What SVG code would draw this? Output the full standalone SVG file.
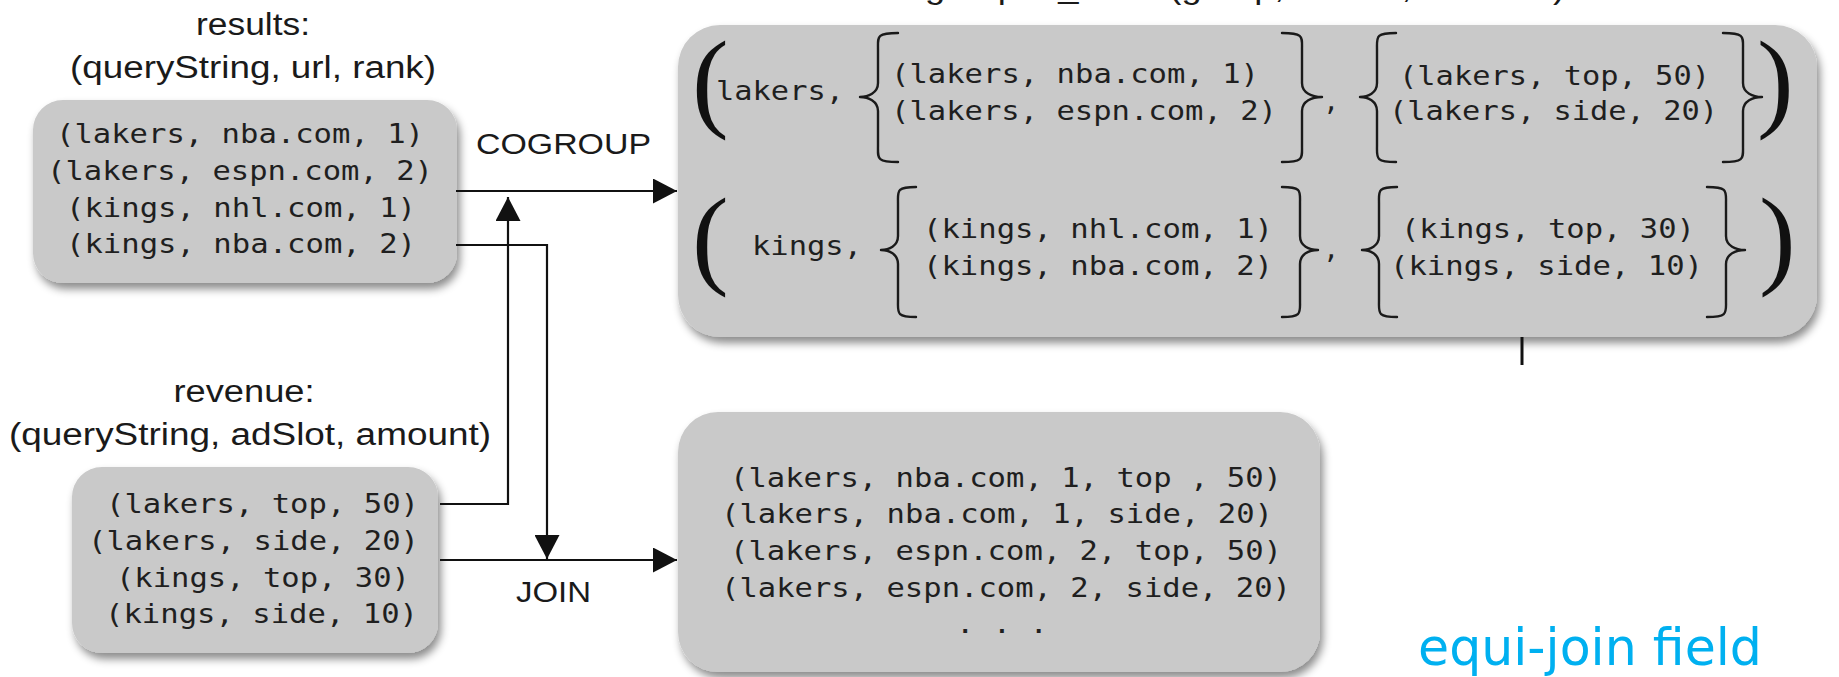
<svg xmlns="http://www.w3.org/2000/svg" width="1839" height="677" viewBox="0 0 1839 677">
  <style>
    .lbl { font-family: "Liberation Sans", Arial, sans-serif; font-size: 31px; fill: #1a1a1a; }
    .op { font-family: "Liberation Sans", Arial, sans-serif; font-size: 29px; fill: #1a1a1a; }
    .mono { font-family: "DejaVu Sans Mono", "Liberation Mono", monospace; font-size: 27px; fill: #1f1f1f; }
    .big { font-family: "Liberation Serif", "Times New Roman", serif; font-size: 110px; fill: #111; }
    .box { fill: #c9c9c9; filter: url(#shadow); }
    .wire { fill: none; stroke: #111; stroke-width: 2.2; }
    .brace { fill: none; stroke: #1a1a1a; stroke-width: 2.4; stroke-linecap: round; stroke-linejoin: round; }
    .note { font-family: "DejaVu Sans", sans-serif; font-size: 52px; fill: #00b0f0; }
  </style>
  <defs>
    <filter id="shadow" x="-10%" y="-10%" width="125%" height="130%">
      <feDropShadow dx="3" dy="6" stdDeviation="4" flood-color="#000" flood-opacity="0.45"/>
    </filter>
    <marker id="head" markerUnits="userSpaceOnUse" markerWidth="24" markerHeight="25" refX="24" refY="12.5" orient="auto">
      <path d="M0,0 L24,12.5 L0,25 Z" fill="#111"/>
    </marker>
  </defs>

  <rect width="1839" height="677" fill="#fff"/>

  <!-- output schema of the cogroup, sitting above the top edge -->
  <text class="lbl" x="925" y="-2" textLength="640" lengthAdjust="spacingAndGlyphs">grouped_data: (group, results, revenue)</text>

  <!-- results relation -->
  <g id="results">
    <text class="lbl" x="253" y="35" text-anchor="middle" textLength="114" lengthAdjust="spacingAndGlyphs">results:</text>
    <text class="lbl" x="253" y="78" text-anchor="middle" textLength="366" lengthAdjust="spacingAndGlyphs">(queryString, url, rank)</text>
    <rect class="box" x="33" y="100" width="424" height="183" rx="30"/>
    <text class="mono" x="240" y="143" text-anchor="middle" textLength="368" lengthAdjust="spacingAndGlyphs">(lakers, nba.com, 1)</text>
    <text class="mono" x="240" y="180" text-anchor="middle" textLength="386" lengthAdjust="spacingAndGlyphs">(lakers, espn.com, 2)</text>
    <text class="mono" x="241" y="217" text-anchor="middle" textLength="350" lengthAdjust="spacingAndGlyphs">(kings, nhl.com, 1)</text>
    <text class="mono" x="241" y="253" text-anchor="middle" textLength="350" lengthAdjust="spacingAndGlyphs">(kings, nba.com, 2)</text>
  </g>

  <!-- revenue relation -->
  <g id="revenue">
    <text class="lbl" x="244" y="402" text-anchor="middle" textLength="141" lengthAdjust="spacingAndGlyphs">revenue:</text>
    <text class="lbl" x="250" y="445" text-anchor="middle" textLength="482" lengthAdjust="spacingAndGlyphs">(queryString, adSlot, amount)</text>
    <rect class="box" x="72" y="467" width="366" height="186" rx="30"/>
    <text class="mono" x="106" y="513" textLength="313" lengthAdjust="spacingAndGlyphs">(lakers, top, 50)</text>
    <text class="mono" x="88" y="550" textLength="331" lengthAdjust="spacingAndGlyphs">(lakers, side, 20)</text>
    <text class="mono" x="116" y="587" textLength="294" lengthAdjust="spacingAndGlyphs">(kings, top, 30)</text>
    <text class="mono" x="105" y="623" textLength="313" lengthAdjust="spacingAndGlyphs">(kings, side, 10)</text>
  </g>

  <!-- cogroup result: one tuple per group with two nested bags -->
  <g id="grouped">
    <rect class="box" x="678" y="25" width="1139" height="312" rx="42"/>
    <!-- lakers group -->
    <text class="big" x="692" y="117">(</text>
    <text class="mono" x="716" y="100" textLength="128" lengthAdjust="spacingAndGlyphs">lakers,</text>
    <path class="brace" d="M898,33 C876,33 878,37 878,49 L878,83 C878,93 868,97 860,97 C868,97 878,101 878,111 L878,146 C878,158 876,162 898,162"/>
    <text class="mono" x="891" y="83" textLength="368" lengthAdjust="spacingAndGlyphs">(lakers, nba.com, 1)</text>
    <text class="mono" x="891" y="120" textLength="386" lengthAdjust="spacingAndGlyphs">(lakers, espn.com, 2)</text>
    <path class="brace" d="M1282,33 C1304,33 1302,37 1302,49 L1302,83 C1302,93 1312,97 1322,97 C1312,97 1302,101 1302,111 L1302,146 C1302,158 1304,162 1282,162"/>
    <text class="mono" x="1323" y="110">,</text>
    <path class="brace" d="M1396,33 C1375,33 1377,37 1377,49 L1377,83 C1377,93 1368,97 1360,97 C1368,97 1377,101 1377,111 L1377,146 C1377,158 1375,162 1396,162"/>
    <text class="mono" x="1399" y="85" textLength="311" lengthAdjust="spacingAndGlyphs">(lakers, top, 50)</text>
    <text class="mono" x="1389" y="120" textLength="329" lengthAdjust="spacingAndGlyphs">(lakers, side, 20)</text>
    <path class="brace" d="M1723,33 C1745,33 1743,37 1743,49 L1743,83 C1743,93 1753,97 1762,97 C1753,97 1743,101 1743,111 L1743,146 C1743,158 1745,162 1723,162"/>
    <text class="big" x="1757" y="117">)</text>

    <!-- kings group -->
    <text class="big" x="692" y="274">(</text>
    <text class="mono" x="752" y="255" textLength="110" lengthAdjust="spacingAndGlyphs">kings,</text>
    <path class="brace" d="M916,187 C896,187 898,191 898,203 L898,236 C898,246 889,250 881,250 C889,250 898,254 898,264 L898,301 C898,313 896,317 916,317"/>
    <text class="mono" x="923" y="238" textLength="350" lengthAdjust="spacingAndGlyphs">(kings, nhl.com, 1)</text>
    <text class="mono" x="923" y="275" textLength="350" lengthAdjust="spacingAndGlyphs">(kings, nba.com, 2)</text>
    <path class="brace" d="M1282,187 C1302,187 1300,191 1300,203 L1300,236 C1300,246 1309,250 1318,250 C1309,250 1300,254 1300,264 L1300,301 C1300,313 1302,317 1282,317"/>
    <text class="mono" x="1323" y="258">,</text>
    <path class="brace" d="M1397,187 C1377,187 1379,191 1379,203 L1379,236 C1379,246 1370,250 1362,250 C1370,250 1379,254 1379,264 L1379,301 C1379,313 1377,317 1397,317"/>
    <text class="mono" x="1401" y="238" textLength="294" lengthAdjust="spacingAndGlyphs">(kings, top, 30)</text>
    <text class="mono" x="1390" y="275" textLength="313" lengthAdjust="spacingAndGlyphs">(kings, side, 10)</text>
    <path class="brace" d="M1707,187 C1728,187 1726,191 1726,203 L1726,236 C1726,246 1736,250 1745,250 C1736,250 1726,254 1726,264 L1726,301 C1726,313 1728,317 1707,317"/>
    <text class="big" x="1759" y="274">)</text>
  </g>

  <!-- join result -->
  <g id="joined">
    <rect class="box" x="678" y="412" width="642" height="260" rx="40"/>
    <text class="mono" x="730" y="487" textLength="552" lengthAdjust="spacingAndGlyphs">(lakers, nba.com, 1, top , 50)</text>
    <text class="mono" x="721" y="523" textLength="552" lengthAdjust="spacingAndGlyphs">(lakers, nba.com, 1, side, 20)</text>
    <text class="mono" x="730" y="560" textLength="552" lengthAdjust="spacingAndGlyphs">(lakers, espn.com, 2, top, 50)</text>
    <text class="mono" x="721" y="597" textLength="570" lengthAdjust="spacingAndGlyphs">(lakers, espn.com, 2, side, 20)</text>
    <text class="mono" x="956" y="633" textLength="92" lengthAdjust="spacingAndGlyphs">. . .</text>
  </g>

  <!-- operators and data flow -->
  <g id="connectors">
    <polyline class="wire" points="456,191 677,191" marker-end="url(#head)"/>
    <polyline class="wire" points="440,504 508,504 508,197" marker-end="url(#head)"/>
    <polyline class="wire" points="456,245 547,245 547,559" marker-end="url(#head)"/>
    <polyline class="wire" points="440,560 677,560" marker-end="url(#head)"/>
    <line x1="1522" y1="337" x2="1522" y2="365" stroke="#111" stroke-width="3"/>
    <text class="op" x="476" y="154" textLength="175" lengthAdjust="spacingAndGlyphs">COGROUP</text>
    <text class="op" x="516" y="602" textLength="75" lengthAdjust="spacingAndGlyphs">JOIN</text>
  </g>

  <text class="note" x="1418" y="665" textLength="344" lengthAdjust="spacingAndGlyphs">equi-join field</text>
</svg>
